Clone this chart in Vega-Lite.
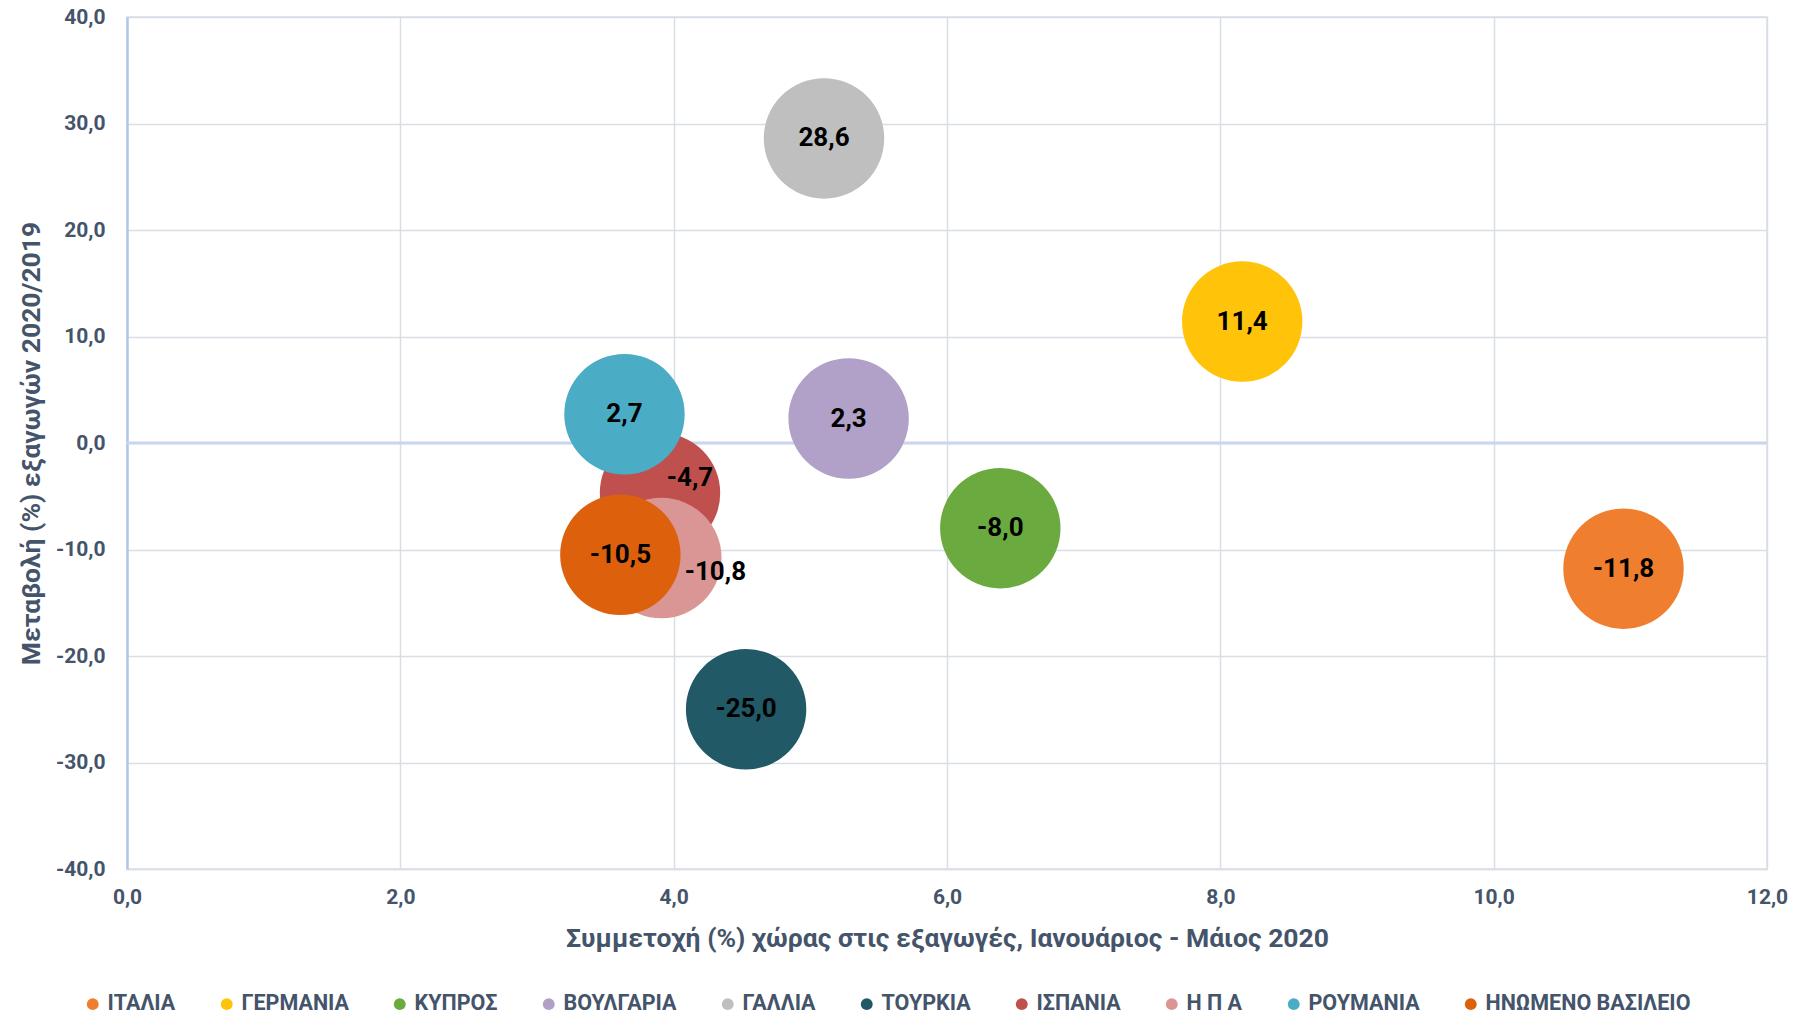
{
  "$schema": "https://vega.github.io/schema/vega-lite/v6.json",
  "width": 1640,
  "height": 852,
  "autosize": {"type": "none"},
  "padding": {"left": 127, "top": 17, "right": 43, "bottom": 148},
  "background": "white",
  "config": {
    "locale": {"number": {"decimal": ",", "thousands": ".", "grouping": [3], "currency": ["", " €"], "minus": "-"}},
    "font": "Roboto",
    "view": {"stroke": "#D9DEE6", "strokeWidth": 1.5},
    "axis": {
      "labelFont": "Roboto", "labelFontSize": 21, "labelFontWeight": "bold", "labelColor": "#44546A",
      "titleFont": "Roboto", "titleFontSize": 26.5, "titleFontWeight": "bold", "titleColor": "#44546A",
      "tickSize": 0, "gridColor": "#D9DEE6", "gridWidth": 1.5, "labelFlush": false
    }
  },
  "data": {
    "values": [
      {"country": "ΙΤΑΛΙΑ", "share": 10.95, "change": -11.8},
      {"country": "ΓΕΡΜΑΝΙΑ", "share": 8.16, "change": 11.4},
      {"country": "ΚΥΠΡΟΣ", "share": 6.39, "change": -8.0},
      {"country": "ΒΟΥΛΓΑΡΙΑ", "share": 5.28, "change": 2.3},
      {"country": "ΓΑΛΛΙΑ", "share": 5.10, "change": 28.6},
      {"country": "ΤΟΥΡΚΙΑ", "share": 4.53, "change": -25.0},
      {"country": "ΙΣΠΑΝΙΑ", "share": 3.90, "change": -4.7},
      {"country": "Η Π Α", "share": 3.91, "change": -10.8},
      {"country": "ΡΟΥΜΑΝΙΑ", "share": 3.64, "change": 2.7},
      {"country": "ΗΝΩΜΕΝΟ ΒΑΣΙΛΕΙΟ", "share": 3.61, "change": -10.5}
    ]
  },
  "encoding": {
    "x": {
      "field": "share", "type": "quantitative",
      "scale": {"domain": [0, 12], "nice": false, "zero": false},
      "axis": {"values": [0, 2, 4, 6, 8, 10, 12], "format": ".1f", "labelPadding": 17, "domainColor": "#D9DEE6", "domainWidth": 1.5, "titlePadding": 18,
               "title": "Συμμετοχή (%) χώρας στις εξαγωγές, Ιανουάριος - Μάιος 2020"}
    },
    "y": {
      "field": "change", "type": "quantitative",
      "scale": {"domain": [-40, 40], "nice": false},
      "axis": {"values": [-40, -30, -20, -10, 0, 10, 20, 30, 40], "format": ".1f", "labelPadding": 22, "domainColor": "#B4C7E7", "domainWidth": 2.5, "titlePadding": 10,
               "title": "Μεταβολή (%) εξαγωγών 2020/2019"}
    }
  },
  "layer": [
    {
      "data": {"values": [{"zero": 0}]},
      "mark": {"type": "rule", "color": "#C9D6EC", "strokeWidth": 3},
      "encoding": {"y": {"field": "zero", "type": "quantitative"}, "x": null}
    },
    {
      "mark": {"type": "point", "shape": "circle", "filled": true, "opacity": 1, "size": 14500, "strokeWidth": 0},
      "encoding": {
        "color": {
          "field": "country", "type": "nominal",
          "scale": {
            "domain": ["ΙΤΑΛΙΑ", "ΓΕΡΜΑΝΙΑ", "ΚΥΠΡΟΣ", "ΒΟΥΛΓΑΡΙΑ", "ΓΑΛΛΙΑ", "ΤΟΥΡΚΙΑ", "ΙΣΠΑΝΙΑ", "Η Π Α", "ΡΟΥΜΑΝΙΑ", "ΗΝΩΜΕΝΟ ΒΑΣΙΛΕΙΟ"],
            "range": ["#F07E2F", "#FFC40A", "#6BAA3E", "#B1A0C7", "#BFBFBF", "#215967", "#C0504D", "#DA9694", "#4BACC6", "#DD610D"]
          },
          "legend": {
            "title": null, "orient": "none", "legendX": -45, "legendY": 976, "direction": "horizontal",
            "symbolType": "circle", "symbolSize": 140, "symbolStrokeWidth": 0,
            "labelFont": "Roboto", "labelFontSize": 21.5, "labelFontWeight": "bold", "labelColor": "#44546A",
            "columnPadding": 40, "labelOffset": 4, "labelLimit": 400
          }
        }
      }
    },
    {
      "transform": [{"filter": "datum.country !== 'ΙΣΠΑΝΙΑ' && datum.country !== 'Η Π Α'"}],
      "mark": {"type": "text", "fontSize": 26, "fontWeight": "bold", "color": "#000000", "font": "Roboto"},
      "encoding": {"text": {"field": "change", "type": "quantitative", "format": ".1f"}}
    },
    {
      "transform": [{"filter": "datum.country === 'ΙΣΠΑΝΙΑ'"}],
      "mark": {"type": "text", "fontSize": 26, "fontWeight": "bold", "color": "#000000", "font": "Roboto", "dx": 30, "dy": -15},
      "encoding": {"text": {"field": "change", "type": "quantitative", "format": ".1f"}}
    },
    {
      "transform": [{"filter": "datum.country === 'Η Π Α'"}],
      "mark": {"type": "text", "fontSize": 26, "fontWeight": "bold", "color": "#000000", "font": "Roboto", "dx": 54, "dy": 14},
      "encoding": {"text": {"field": "change", "type": "quantitative", "format": ".1f"}}
    }
  ]
}
